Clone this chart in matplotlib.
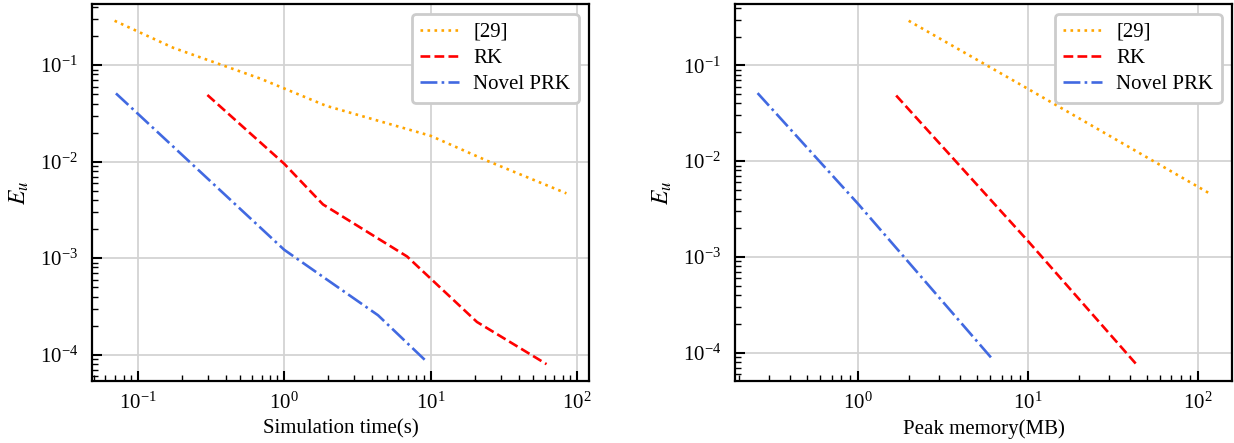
import matplotlib
matplotlib.use("Agg")
import matplotlib.pyplot as plt

plt.rcParams['font.family'] = ['Liberation Serif', 'DejaVu Serif']
plt.rcParams['mathtext.fontset'] = 'stix'

# ---- data (left: simulation time) ----
t29_x = [0.0695, 0.175, 0.685, 1.93, 10.0, 24.3, 84.5]
t29_y = [0.288, 0.151, 0.0726, 0.0379, 0.0185, 0.0102, 0.00469]
trk_x = [0.299, 1.0, 1.84, 6.9, 20.7, 61.8]
trk_y = [0.049, 0.0095, 0.0036, 0.00104, 2.18e-4, 7.97e-5]
tprk_x = [0.071, 1.0, 4.37, 9.4]
tprk_y = [0.0509, 0.00122, 2.56e-4, 8.45e-5]

# ---- data (right: peak memory) ----
m29_x = [1.99, 10.0, 117.0]
m29_y = [0.292, 0.0569, 0.00461]
mrk_x = [1.68, 10.0, 43.4]
mrk_y = [0.0484, 0.00147, 7.6e-5]
mprk_x = [0.257, 1.0, 6.25]
mprk_y = [0.0513, 0.0036, 8.4e-5]

labels = ['[29]', 'RK', 'Novel PRK']
xlabels = ['Simulation time(s)', 'Peak memory(MB)']

fig = plt.figure(figsize=(12.34, 4.43), dpi=100)
axL = fig.add_axes([92/1234, 1-381.3/443, 497/1234, 377.7/443])
axR = fig.add_axes([735/1234, 1-381.3/443, 497/1234, 377.7/443])

lw = 1.9
for ax, data, xl in [
    (axL, [(t29_x, t29_y), (trk_x, trk_y), (tprk_x, tprk_y)], xlabels[0]),
    (axR, [(m29_x, m29_y), (mrk_x, mrk_y), (mprk_x, mprk_y)], xlabels[1]),
]:
    (x1, y1), (x2, y2), (x3, y3) = data
    ax.plot(x1, y1, linestyle=':', color='orange', lw=lw, label=labels[0])
    ax.plot(x2, y2, linestyle='--', color='red', lw=lw, label=labels[1])
    ax.plot(x3, y3, linestyle='-.', color='royalblue', lw=lw, label=labels[2])
    ax.set_xscale('log')
    ax.set_yscale('log')
    ax.grid(True, which='major', color='#d3d3d3', lw=1.3)
    ax.set_axisbelow(True)
    for s in ax.spines.values():
        s.set_linewidth(1.6)
    ax.tick_params(which='major', direction='in', length=7, width=1.5,
                   labelsize=15, pad=8)
    ax.tick_params(which='minor', direction='in', length=4, width=1.0)
    ax.tick_params(axis='y', which='major', pad=10)
    ax.set_xlabel(xl, fontsize=15, labelpad=4)
    ax.set_ylabel(r'$E_u$', fontsize=17, labelpad=6)
    leg = ax.legend(loc='upper right', fontsize=15, fancybox=True,
                    framealpha=1.0, edgecolor='#cccccc',
                    labelspacing=0.32, handlelength=1.85, handletextpad=0.7,
                    borderpad=0.4)
    leg.get_frame().set_linewidth(2)

fig.savefig('out.png', dpi=100)
